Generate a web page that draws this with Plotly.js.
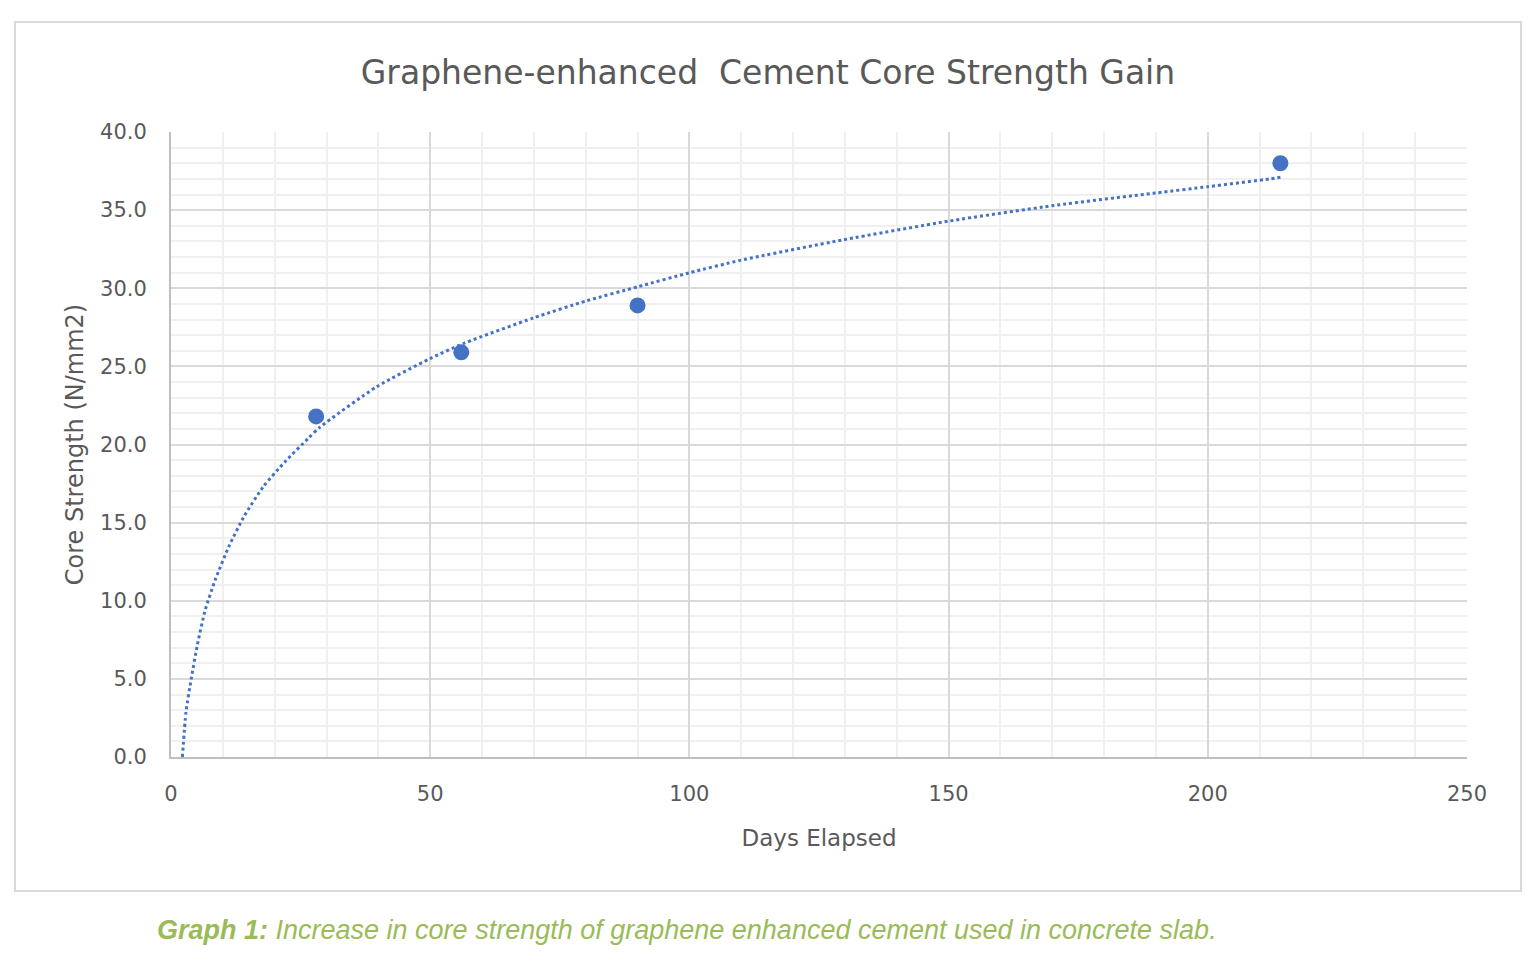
<!DOCTYPE html>
<html>
<head>
<meta charset="utf-8">
<script src="https://cdn.plot.ly/plotly-3.0.1.min.js"></script>
<style>
  html, body { margin: 0; padding: 0; background: #ffffff; }
  #chart { width: 1536px; height: 968px; }
</style>
</head>
<body>
<div id="chart"></div>
<script>
// measured core strength samples
const daysElapsed = [28, 56, 90, 214];
const coreStrength = [21.8, 25.9, 28.9, 38.0];

// dotted log trendline
const trendDays = [2.2, 2.9, 3.9, 5.1, 6.6, 8.6, 11.2, 14.1, 17.8, 22.0, 26.5, 28.7, 39.7, 50.0, 56.7, 69.9, 80.2, 90.1, 100.1, 110.0, 129.7, 150.1, 170.4, 190.0, 200.0, 212.0, 214.0];
const trendStrength = [0.0, 2.9, 5.0, 7.2, 9.4, 11.4, 13.5, 15.4, 17.3, 18.9, 20.4, 21.1, 23.7, 25.5, 26.5, 28.1, 29.2, 30.1, 31.0, 31.8, 33.1, 34.3, 35.3, 36.1, 36.5, 37.0, 37.1];

const xTicks = [0, 50, 100, 150, 200, 250];
const yTicks = [0, 5, 10, 15, 20, 25, 30, 35, 40];

const BLUE = '#4472C4';
const FONT = 'DejaVu Sans, sans-serif';

const data = [
  {
    x: trendDays, y: trendStrength, type: 'scatter', mode: 'lines',
    line: { color: BLUE, width: 3, dash: 'dot', shape: 'spline', smoothing: 0.6 },
    hoverinfo: 'skip', showlegend: false
  },
  {
    x: daysElapsed, y: coreStrength, type: 'scatter', mode: 'markers',
    marker: { color: BLUE, size: 16 }, showlegend: false
  }
];

const layout = {
  width: 1536, height: 968,
  margin: { l: 171, r: 69, t: 132, b: 211 },
  paper_bgcolor: '#ffffff', plot_bgcolor: '#ffffff',
  font: { family: FONT, color: '#595959', size: 21 },
  title: {
    text: 'Graphene-enhanced\u00a0 Cement Core Strength Gain',
    font: { family: FONT, size: 33, color: '#595959' },
    x: 0.5, xanchor: 'center', y: 0.925, yanchor: 'middle'
  },
  xaxis: {
    range: [0, 250], tickvals: xTicks, ticktext: xTicks.map(String),
    showgrid: true, gridcolor: '#d9d9d9', gridwidth: 2,
    minor: { dtick: 10, showgrid: true, gridcolor: '#f0f0f0', gridwidth: 2 },
    showline: true, linecolor: '#bfbfbf', linewidth: 2,
    ticks: 'outside', ticklen: 17, tickcolor: 'rgba(0,0,0,0)',
    zeroline: false, fixedrange: true,
    tickfont: { size: 21, color: '#595959' },
    title: { text: 'Days Elapsed', font: { size: 23, color: '#595959' }, standoff: 25 }
  },
  yaxis: {
    range: [0, 40], tickvals: yTicks, tickformat: '.1f',
    showgrid: true, gridcolor: '#d9d9d9', gridwidth: 2,
    minor: { dtick: 1, showgrid: true, gridcolor: '#f0f0f0', gridwidth: 2 },
    showline: true, linecolor: '#bfbfbf', linewidth: 2,
    ticks: 'outside', ticklen: 18, tickcolor: 'rgba(0,0,0,0)',
    zeroline: false, fixedrange: true,
    tickfont: { size: 21, color: '#595959' },
    title: { text: 'Core Strength (N/mm2)', font: { size: 24, color: '#595959' }, standoff: 10 }
  },
  shapes: [
    {
      type: 'rect', xref: 'paper', yref: 'paper',
      x0: -0.1204, x1: 1.0417, y0: -0.2144, y1: 1.176,
      line: { color: '#d9d9d9', width: 2 }, fillcolor: 'rgba(0,0,0,0)', layer: 'below'
    }
  ],
  annotations: [
    {
      xref: 'paper', yref: 'paper', x: -0.0123, y: -0.2768,
      xanchor: 'left', yanchor: 'middle', showarrow: false,
      text: '<b><i>Graph 1:</i></b><i> Increase in core strength of graphene enhanced cement used in concrete slab.</i>',
      font: { family: 'Liberation Sans, Arial, sans-serif', size: 27, color: '#9BBB59' }
    }
  ]
};

Plotly.newPlot('chart', data, layout, { displayModeBar: false, responsive: false });
</script>
</body>
</html>
